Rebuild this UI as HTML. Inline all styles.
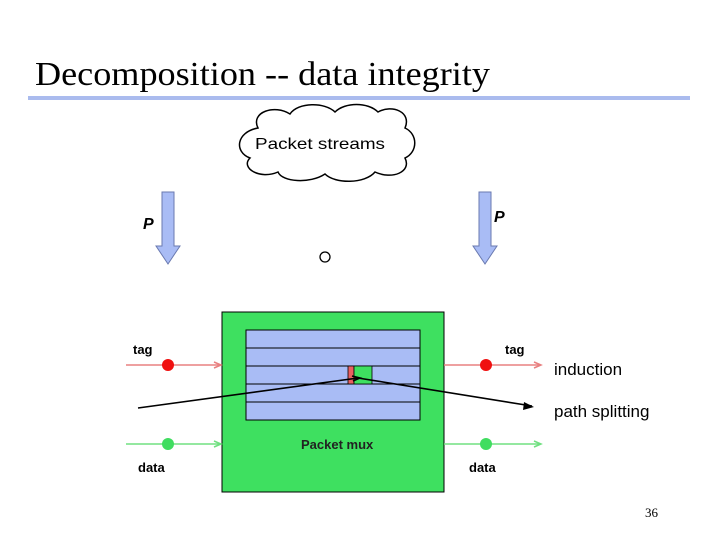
<!DOCTYPE html>
<html><head><style>html,body{margin:0;padding:0;background:#fff}svg{display:block}</style></head>
<body>
<svg width="720" height="540" viewBox="0 0 720 540" xmlns="http://www.w3.org/2000/svg" font-family="Liberation Sans, sans-serif">
<text x="35" y="85" font-family="Liberation Serif, serif" font-size="34" textLength="455" lengthAdjust="spacingAndGlyphs">Decomposition -- data integrity</text>
<rect x="28" y="96" width="662" height="4" fill="#aabbee"/>
<!-- cloud -->
<path d="M258,128 C250,112 275,104 290,114 C298,102 325,102 335,112 C345,102 368,102 378,112 C392,104 412,112 405,128 C418,134 418,152 405,158 C412,172 392,180 375,172 C365,184 335,184 325,174 C310,184 282,182 278,172 C260,180 240,168 250,158 C234,152 236,132 258,128 Z" fill="#fff" stroke="#000" stroke-width="1.5"/>
<text x="255" y="149" font-size="16" textLength="130" lengthAdjust="spacingAndGlyphs">Packet streams</text>
<!-- arrows -->
<path d="M162,192 H174 V246 H180 L168,264 L156,246 H162 Z" fill="#a9bcf5" stroke="#6a7ab0" stroke-width="1"/>
<path d="M479,192 H491 V246 H497 L485,264 L473,246 H479 Z" fill="#a9bcf5" stroke="#6a7ab0" stroke-width="1"/>
<text x="143" y="229" font-size="16" font-style="italic" font-weight="bold">P</text>
<text x="494" y="222" font-size="16" font-style="italic" font-weight="bold">P</text>
<circle cx="325" cy="257" r="5" fill="#fff" stroke="#000" stroke-width="1.3"/>
<!-- box -->
<rect x="222" y="312" width="222" height="180" fill="#3ee060" stroke="#000" stroke-width="1"/>
<rect x="246" y="330" width="174" height="90" fill="#a9bcf5" stroke="#000" stroke-width="1"/>
<g stroke="#000" stroke-width="1"><line x1="246" y1="348" x2="420" y2="348"/><line x1="246" y1="366" x2="420" y2="366"/><line x1="246" y1="384" x2="420" y2="384"/><line x1="246" y1="402" x2="420" y2="402"/></g>
<rect x="348" y="366" width="6" height="18" fill="#e86060" stroke="#000" stroke-width="0.8"/>
<rect x="354" y="366" width="18" height="18" fill="#3ee060" stroke="#000" stroke-width="0.8"/>
<text x="301" y="449" font-size="13" font-weight="bold" fill="#222">Packet mux</text>
<!-- tag lines -->
<g stroke="#e88080" stroke-width="1.5" fill="none"><line x1="126" y1="365" x2="220" y2="365"/><path d="M214,362 L221,365 L214,368"/><line x1="444" y1="365" x2="540" y2="365"/><path d="M534,362 L541,365 L534,368"/></g>
<circle cx="168" cy="365" r="6" fill="#f01010"/><circle cx="486" cy="365" r="6" fill="#f01010"/>
<g stroke="#70e080" stroke-width="1.5" fill="none"><line x1="126" y1="444" x2="220" y2="444"/><path d="M214,441 L221,444 L214,447"/><line x1="444" y1="444" x2="540" y2="444"/><path d="M534,441 L541,444 L534,447"/></g>
<circle cx="168" cy="444" r="6" fill="#40dd60"/><circle cx="486" cy="444" r="6" fill="#40dd60"/>
<text x="133" y="354" font-size="13" font-weight="bold">tag</text><text x="505" y="354" font-size="13" font-weight="bold">tag</text>
<text x="138" y="472" font-size="13" font-weight="bold">data</text><text x="469" y="472" font-size="13" font-weight="bold">data</text>
<!-- path -->
<g stroke="#000" stroke-width="1.6" fill="none"><path d="M138,408 L358,378"/><path d="M352,376 L360,378 L353,381"/><path d="M358,378 L532,406"/></g>
<path d="M534,407 L524,402 L523,410 Z" fill="#000"/>
<text x="554" y="375" font-size="17">induction</text>
<text x="554" y="417" font-size="17">path splitting</text>
<text x="645" y="517" font-family="Liberation Serif, serif" font-size="13">36</text>
</svg>
</body></html>
